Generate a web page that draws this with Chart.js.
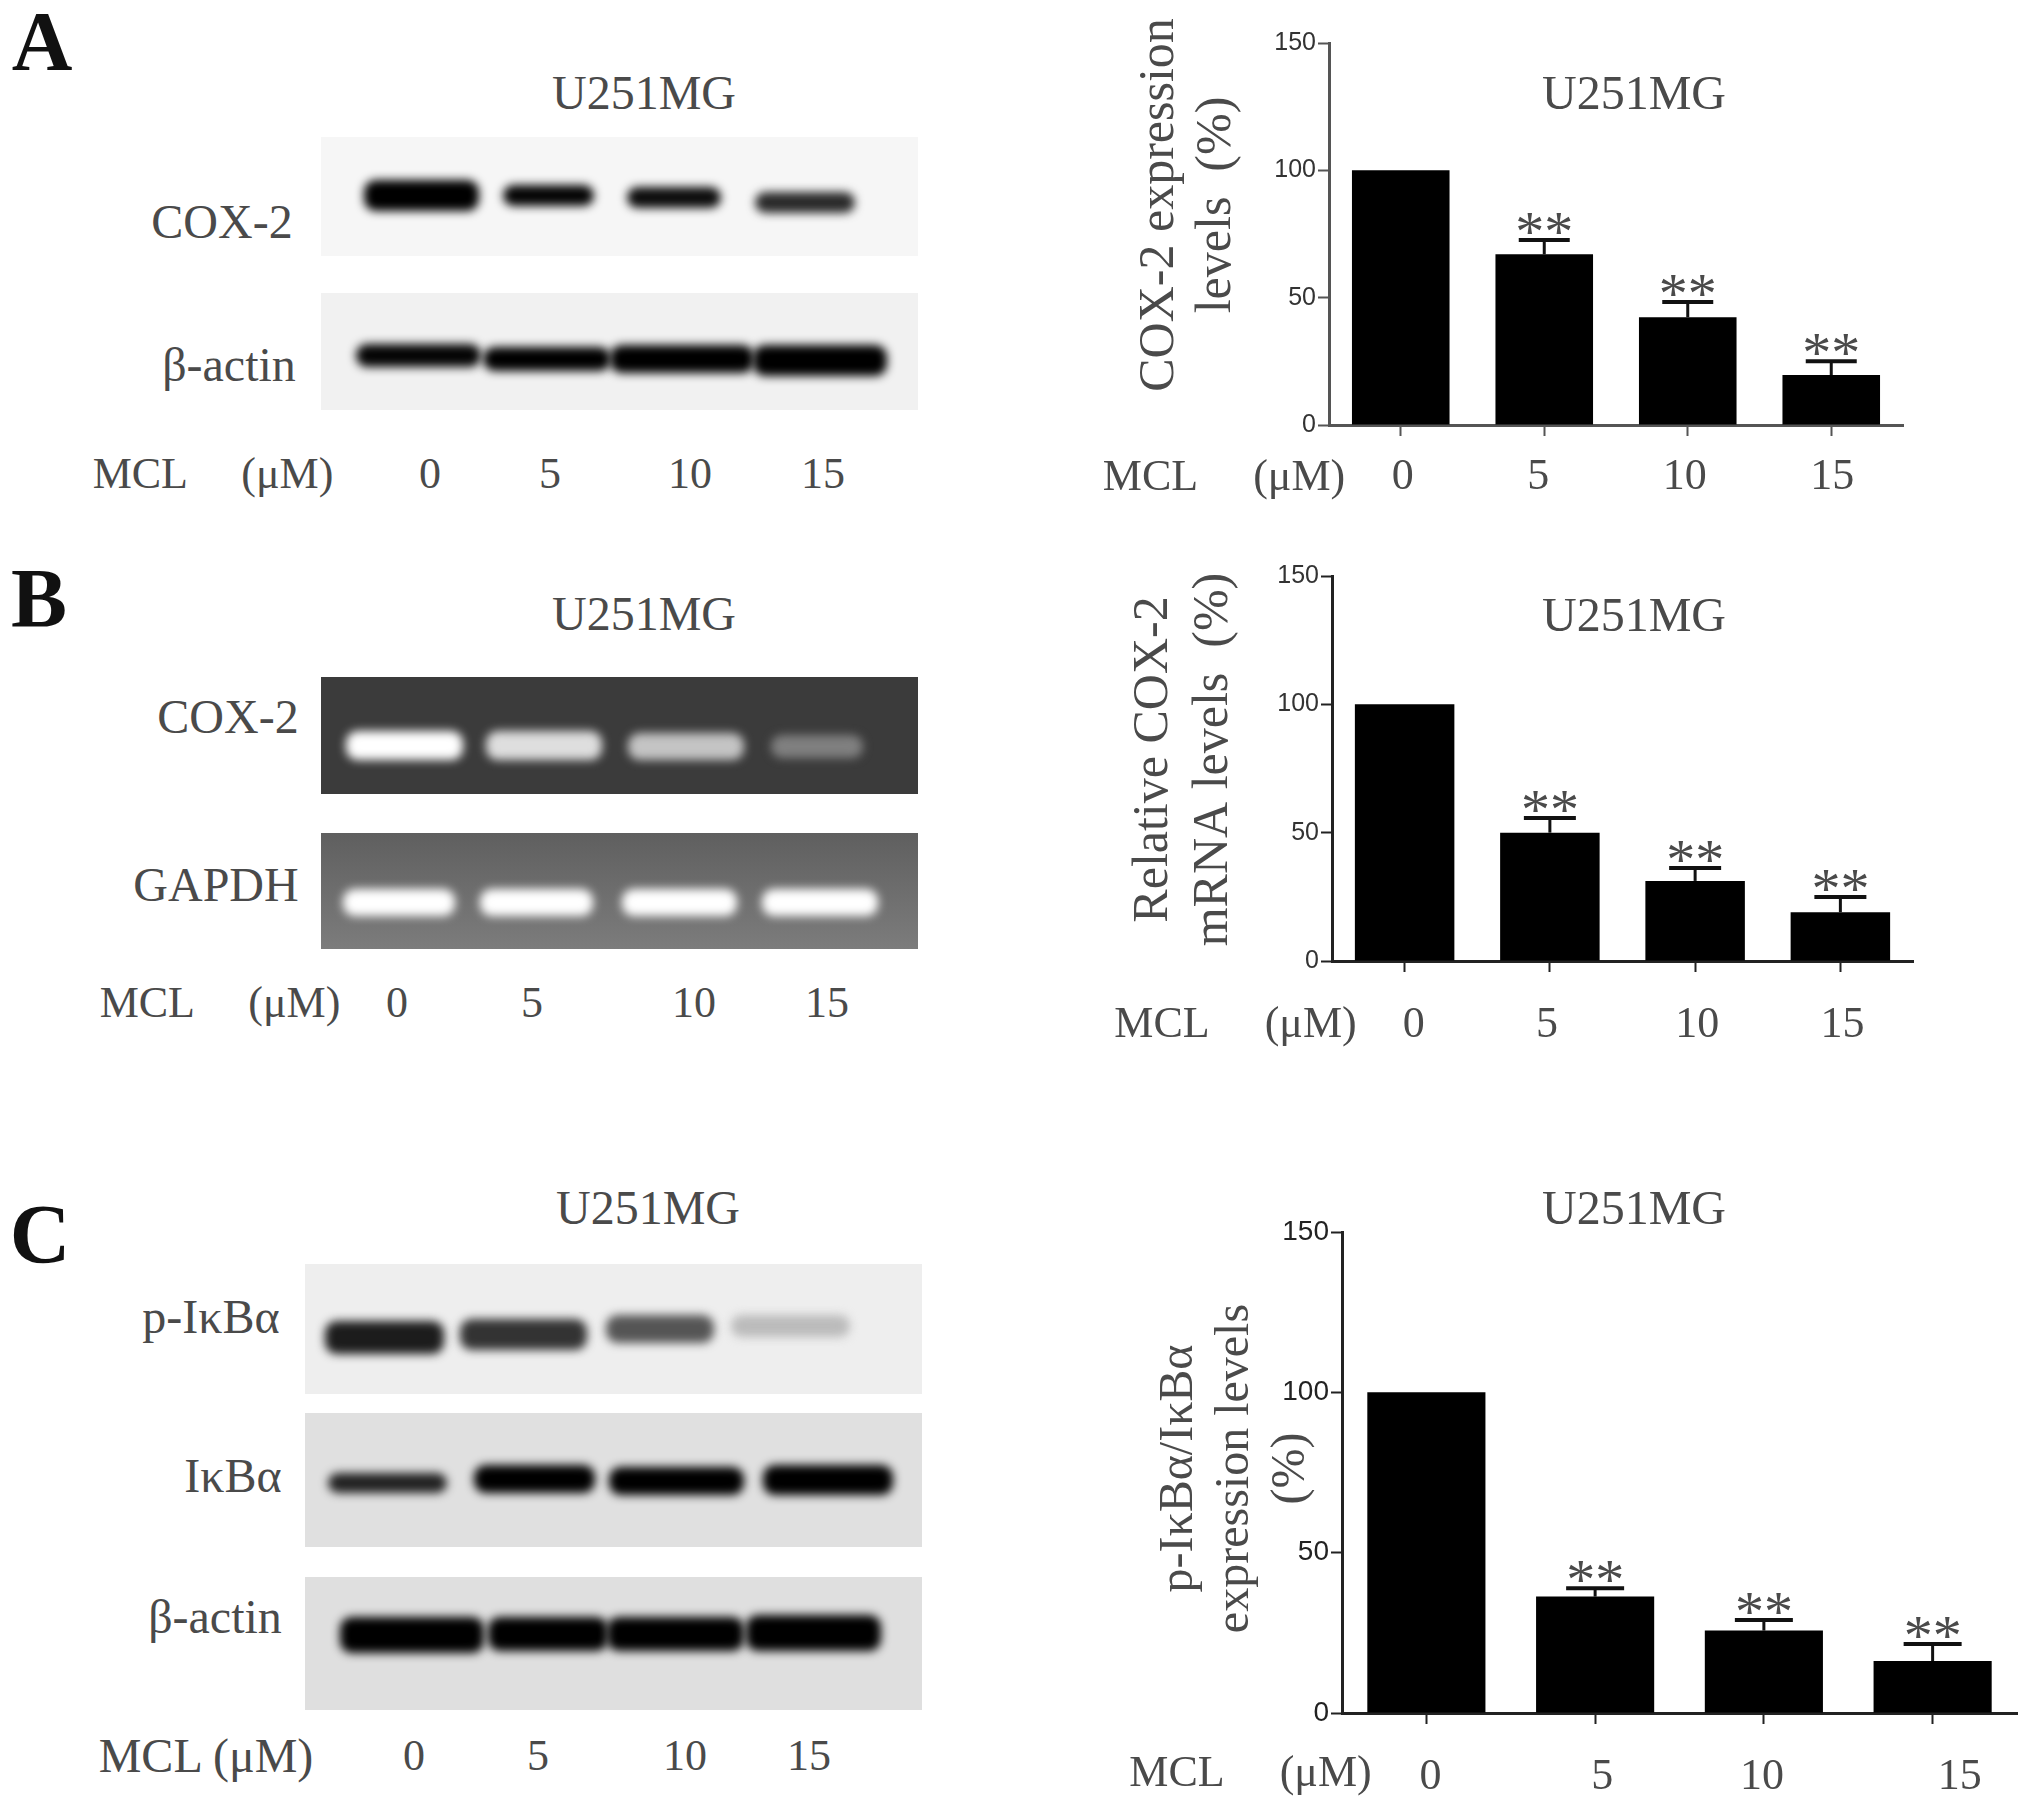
<!DOCTYPE html>
<html>
<head>
<meta charset="utf-8">
<title>U251MG</title>
<script src="https://cdn.jsdelivr.net/npm/chart.js@4"></script>
<style>
  html, body { margin: 0; padding: 0; background: #fff; }
  #page { position: relative; width: 2031px; height: 1813px; overflow: hidden; }
  #page canvas { position: absolute; }
  .label { position: absolute; transform: translate(-50%, -50%); white-space: pre; line-height: 1;
           font-family: "Liberation Serif", serif; color: #4a4a4a; }
  .blot { position: absolute; overflow: hidden; }
  .band { position: absolute; border-radius: 12px; }
</style>
</head>
<body>
<div id="page">
  <canvas id="chartA"></canvas>
  <canvas id="chartB"></canvas>
  <canvas id="chartC"></canvas>
</div>
<script>
const doses = ['0', '5', '10', '15'];
const yTicks = [0, 50, 100, 150];

const cox2Protein = [100, 67, 42.3, 19.6];
const cox2ProteinErr = [null, 72.6, 48.3, 25];
const cox2Mrna = [100, 50, 31.2, 19];
const cox2MrnaErr = [null, 55.7, 36.2, 24.9];
const pIkba = [100, 36.3, 25.7, 16.2];
const pIkbaErr = [null, 38.9, 29, 21.5];

const doseAxisLabel = 'MCL     (μM)';

// error bars and ** marks, positioned through the y scale
const errorBarPlugin = {
  id: 'errorBars',
  afterDatasetsDraw(chart, args, opts) {
    const ctx = chart.ctx;
    const meta = chart.getDatasetMeta(0);
    ctx.save();
    ctx.strokeStyle = '#111';
    opts.tops.forEach((top, i) => {
      if (top === null) return;
      const x = meta.data[i].x;
      const yTop = chart.scales.y.getPixelForValue(top);
      const yBar = meta.data[i].y;
      ctx.lineWidth = opts.stem;
      ctx.beginPath();
      ctx.moveTo(x, yBar);
      ctx.lineTo(x, yTop);
      ctx.stroke();
      ctx.lineWidth = 4;
      ctx.beginPath();
      ctx.moveTo(x - opts.cap / 2, yTop);
      ctx.lineTo(x + opts.cap / 2, yTop);
      ctx.stroke();
      ctx.fillStyle = '#4a4a4a';
      ctx.font = '58px "Liberation Serif"';
      ctx.textAlign = 'center';
      ctx.textBaseline = 'alphabetic';
      ctx.fillText('**', x, yTop + 11);
    });
    ctx.restore();
  }
};

// the source figure moves its axis titles and some dose labels by hand
const nudgePlugin = {
  id: 'nudge',
  afterUpdate(chart, args, opts) {
    const wrap = (scale, dx, dy) => {
      const drawTitle = scale.drawTitle;
      scale.drawTitle = function () {
        chart.ctx.save();
        chart.ctx.translate(dx, dy);
        drawTitle.call(scale);
        chart.ctx.restore();
      };
    };
    wrap(chart.scales.y, 0, opts.yTitleDy);
    wrap(chart.scales.x, opts.xTitleDx, opts.xTitleDy);
  },
  beforeDraw(chart, args, opts) {
    if (chart.$nudged) return;
    chart.$nudged = true;
    chart.scales.x.getLabelItems().forEach((item, i) => {
      item.options.translation[0] += opts.labelDx[i];
    });
  }
};

function drawBars(id, box, plot, values, errors, style) {
  const canvas = document.getElementById(id);
  canvas.style.left = box.left + 'px';
  canvas.style.top = box.top + 'px';
  canvas.width = box.width;
  canvas.height = box.height;
  return new Chart(canvas.getContext('2d'), {
    type: 'bar',
    data: {
      labels: doses,
      datasets: [{
        data: values,
        backgroundColor: '#000',
        barPercentage: style.barPercentage,
        categoryPercentage: 1
      }]
    },
    plugins: [errorBarPlugin, nudgePlugin],
    options: {
      responsive: false,
      animation: false,
      events: [],
      layout: { padding: { left: 0, top: plot.top - box.top, right: box.left + box.width - plot.right, bottom: 0 } },
      plugins: {
        legend: { display: false },
        tooltip: { enabled: false },
        errorBars: { tops: errors, cap: style.cap, stem: style.stem },
        nudge: style.nudge
      },
      scales: {
        x: {
          afterFit: s => { s.height = box.top + box.height - plot.bottom; },
          grid: { display: true, offset: false, drawOnChartArea: false, drawTicks: true, tickLength: 11, tickColor: style.axisColor, tickWidth: 2 },
          border: { display: true, color: style.axisColor, width: style.axisWidth },
          ticks: { color: '#4a4a4a', padding: style.labelGap, maxRotation: 0, font: { family: 'Liberation Serif', size: 44 } },
          title: { display: true, text: doseAxisLabel, color: '#4a4a4a', padding: 0, font: { family: 'Liberation Serif', size: 44, lineHeight: 1.2 } }
        },
        y: {
          min: 0,
          max: 150,
          afterFit: s => { s.width = plot.left - box.left; },
          afterBuildTicks: s => { s.ticks = yTicks.map(v => ({ value: v })); },
          grid: { display: true, drawOnChartArea: false, drawTicks: true, tickLength: 11, tickColor: style.axisColor, tickWidth: 2 },
          border: { display: true, color: style.axisColor, width: style.axisWidth },
          ticks: { color: style.tickColor, padding: 2, font: { family: 'Liberation Sans', size: style.tickSize } },
          title: {
            display: true,
            text: style.yTitle,
            color: '#4a4a4a',
            padding: { top: style.titleLeft, bottom: 0 },
            font: { family: 'Liberation Serif', size: style.titleSize, lineHeight: style.titleLine }
          }
        }
      }
    }
  });
}

drawBars('chartA', { left: 1100, top: 0, width: 931, height: 520 }, { left: 1329, top: 43, right: 1903, bottom: 425 },
  cox2Protein, cox2ProteinErr, {
    barPercentage: 0.68, cap: 51, stem: 3, axisColor: '#555', axisWidth: 3, tickColor: '#333', tickSize: 25, labelGap: 15,
    yTitle: ['COX-2 expression', 'levels  (%)'], titleLeft: 31, titleSize: 50, titleLine: 1.14,
    nudge: { yTitleDy: -29, xTitleDx: -392, xTitleDy: -15, labelDx: [2, -6, -3, 1] }
  });

drawBars('chartB', { left: 1100, top: 550, width: 931, height: 520 }, { left: 1332, top: 576, right: 1913, bottom: 961 },
  cox2Mrna, cox2MrnaErr, {
    barPercentage: 0.685, cap: 52, stem: 3, axisColor: '#222', axisWidth: 3, tickColor: '#333', tickSize: 25, labelGap: 27,
    yTitle: ['Relative COX-2', 'mRNA levels  (%)'], titleLeft: 24, titleSize: 50, titleLine: 1.2,
    nudge: { yTitleDy: -9, xTitleDx: -387, xTitleDy: -18, labelDx: [9, -3, 2, 2] }
  });

drawBars('chartC', { left: 1100, top: 1180, width: 931, height: 633 }, { left: 1342, top: 1232, right: 2017, bottom: 1713 },
  pIkba, pIkbaErr, {
    barPercentage: 0.70, cap: 58, stem: 3, axisColor: '#222', axisWidth: 3, tickColor: '#222', tickSize: 28, labelGap: 27,
    yTitle: ['p-IκBα/IκBα', 'expression levels', '(%)'], titleLeft: 51, titleSize: 48, titleLine: 1.17,
    nudge: { yTitleDy: -4, xTitleDx: -429, xTitleDy: -12, labelDx: [4, 7, -2, 27] }
  });

// free text around the charts: text, centre x, centre y, size, bold
const labels = [
  ['A', 42, 42, 84, true], ['B', 39, 599, 84, true], ['C', 40, 1235, 84, true],
  ['U251MG', 644, 93, 48], ['U251MG', 644, 614, 48], ['U251MG', 648, 1208, 48],
  ['U251MG', 1634, 93, 48], ['U251MG', 1634, 615, 48], ['U251MG', 1634, 1208, 48],
  ['COX-2', 222, 222, 48], ['β-actin', 229, 365, 48],
  ['COX-2', 228, 717, 48], ['GAPDH', 216, 885, 48],
  ['p-IκBα', 211, 1317, 48], ['IκBα', 233, 1476, 48], ['β-actin', 215, 1617, 48],
  [doseAxisLabel, 213, 474, 44], ['0', 430, 474, 44], ['5', 550, 474, 44], ['10', 690, 474, 44], ['15', 823, 474, 44],
  [doseAxisLabel, 220, 1003, 44], ['0', 397, 1003, 44], ['5', 532, 1003, 44], ['10', 694, 1003, 44], ['15', 827, 1003, 44],
  ['MCL (μM)', 206, 1756, 48], ['0', 414, 1756, 44], ['5', 538, 1756, 44], ['10', 685, 1756, 44], ['15', 809, 1756, 44]
];

// gel and blot photographs: frame left, top, right, bottom, background, bands [left, right, top, bottom, colour]
const blots = [
  [321, 137, 918, 256, '#f6f6f6', [
    [364, 479, 180, 211, '#000'], [503, 594, 185, 206, '#050505'], [627, 721, 187, 208, '#0d0d0d'], [755, 855, 192, 213, '#2a2a2a']]],
  [321, 293, 918, 410, '#f1f1f1', [
    [356, 481, 344, 367, '#050505'], [483, 611, 347, 371, '#000'], [610, 754, 345, 373, '#000'], [753, 887, 345, 376, '#000']]],
  [321, 677, 918, 794, '#3b3b3b', [
    [346, 463, 731, 760, '#fff'], [486, 602, 731, 760, '#dedede'], [628, 744, 733, 760, '#c4c4c4'], [771, 863, 735, 758, '#808080']]],
  [321, 833, 918, 949, 'linear-gradient(#5f5f5f, #7c7c7c)', [
    [343, 455, 889, 916, '#fff'], [480, 593, 889, 916, '#fff'], [622, 737, 889, 916, '#fff'], [762, 878, 889, 916, '#fff']]],
  [305, 1264, 922, 1394, '#eeeeee', [
    [325, 444, 1321, 1354, '#1c1c1c'], [460, 587, 1319, 1350, '#333'], [606, 714, 1315, 1343, '#555'], [731, 850, 1315, 1337, '#bbb']]],
  [305, 1413, 922, 1547, '#e0e0e0', [
    [328, 447, 1473, 1493, '#222'], [474, 595, 1465, 1493, '#000'], [609, 744, 1467, 1495, '#000'], [763, 893, 1465, 1495, '#000']]],
  [305, 1577, 922, 1710, '#dfdfdf', [
    [340, 484, 1617, 1653, '#000'], [488, 608, 1617, 1651, '#000'], [607, 744, 1617, 1651, '#000'], [746, 881, 1615, 1651, '#000']]]
];

const page = document.getElementById('page');

blots.forEach(([left, top, right, bottom, background, bands]) => {
  const frame = document.createElement('div');
  frame.className = 'blot';
  frame.style.cssText = `left:${left}px;top:${top}px;width:${right - left}px;height:${bottom - top}px;background:${background}`;
  bands.forEach(([l, r, t, b, colour]) => {
    const band = document.createElement('div');
    band.className = 'band';
    band.style.cssText = `left:${l - left}px;top:${t - top}px;width:${r - l}px;height:${b - t}px;background:${colour};filter:blur(5px)`;
    frame.appendChild(band);
  });
  page.appendChild(frame);
});

labels.forEach(([text, x, y, size, bold]) => {
  const el = document.createElement('div');
  el.className = 'label';
  el.textContent = text;
  el.style.left = x + 'px';
  el.style.top = y + 'px';
  el.style.fontSize = size + 'px';
  if (bold) {
    el.style.fontWeight = 'bold';
    el.style.color = '#111';
  }
  page.appendChild(el);
});
</script>
</body>
</html>
